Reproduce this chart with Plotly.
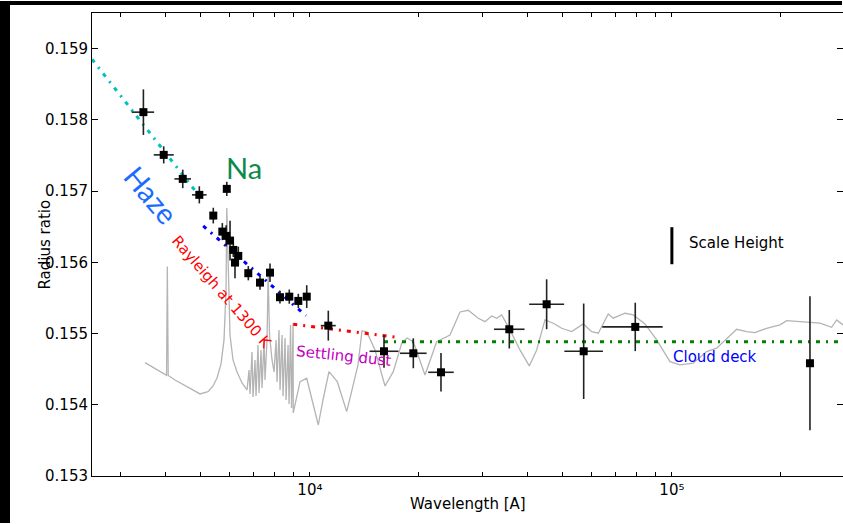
import math
import plotly.graph_objects as go

# ---------------- data ----------------
# observed transmission spectrum (wavelength in Angstrom, radius ratio)
obs_wl = [3467, 3945, 4453, 4948, 5408, 5728, 5870, 5893, 6016, 6142, 6209, 6340,
          6757, 7278, 7757, 8265, 8770, 9288, 9799, 11240, 16020, 19305, 23020,
          35550, 45080, 57060, 79220, 240700]
obs_wl_lo = [3219, 3702, 4223, 4722, 5408, 5728, 5870, 5893, 6016, 6142, 6209, 6340,
             6757, 7278, 7757, 8265, 8770, 9288, 9799, 10715, 14610, 17740, 21220,
             32250, 40340, 50460, 64220, 240700]
obs_wl_hi = [3712, 4205, 4693, 5184, 5408, 5728, 5870, 5893, 6016, 6142, 6209, 6340,
             6757, 7278, 7757, 8265, 8770, 9288, 9799, 11789, 17570, 21006, 24966,
             39170, 50390, 64500, 94300, 240700]
obs_r = [0.158108, 0.157508, 0.157171, 0.156947, 0.156656, 0.156431, 0.156371, 0.157031,
         0.156305, 0.156174, 0.155996, 0.156090, 0.155847, 0.155715, 0.155855, 0.155510,
         0.155518, 0.155458, 0.155518, 0.155111, 0.154751, 0.154723, 0.154456, 0.155060,
         0.155411, 0.154751, 0.155093, 0.154583]
obs_r_err = [0.00032, 0.00012, 0.00013, 0.00012, 0.00011, 0.00012, 0.00015, 0.00010,
             0.00028, 0.00010, 0.00022, 0.00013, 0.00010, 0.00010, 0.00013, 0.00009,
             0.00010, 0.00010, 0.00016, 0.00021, 0.00023, 0.00021, 0.00027, 0.00027,
             0.00035, 0.00067, 0.00034, 0.00094]

# grey model spectrum
model_wl = [3503, 4017, 4037, 4060, 4240, 4433, 4664, 4970, 5230, 5399, 5538, 5681,
            5790, 5864, 5893, 5958, 6015, 6131, 6289, 6493, 6703, 6788, 6831, 6918,
            6963, 7052, 7097, 7188, 7234, 7327, 7374, 7468, 7516, 7612, 7665, 7734,
            7858, 7959, 8061, 8112, 8216, 8269, 8375, 8428, 8536, 8591, 8701, 8757,
            8841, 8897, 8985, 8995, 9155, 9391, 9797, 10133, 10547, 10867, 11290,
            11903, 12636, 13070, 13577, 13927, 14354, 15128, 16121, 16994, 17928,
            18543, 19300, 19885, 20794, 22398, 24378, 25975, 27384, 29183, 30454,
            31779, 32806, 33867, 35702, 38047, 40366, 42313, 44607, 47025, 49605,
            52860, 56906, 60033, 62608, 66715, 68871, 74200, 78215, 84263, 90790,
            98785, 105273, 114560, 124780, 132960, 141680, 151000, 160900, 169600,
            182700, 198900, 207600, 240700, 256500, 276300, 285300, 297000]
model_r = [0.154591, 0.154414, 0.155940, 0.154412, 0.154348, 0.154292, 0.154232, 0.154152,
           0.154184, 0.154264, 0.154376, 0.154573, 0.154910, 0.155612, 0.156764, 0.155612,
           0.154980, 0.154629, 0.154461, 0.154306, 0.154208, 0.154489, 0.154152, 0.154742,
           0.154110, 0.154629, 0.154124, 0.154840, 0.154166, 0.154770, 0.154236, 0.154910,
           0.154348, 0.154910, 0.155823, 0.154980, 0.154629, 0.154461, 0.154910, 0.154320,
           0.155051, 0.154208, 0.154980, 0.154124, 0.154938, 0.154067, 0.154840, 0.154011,
           0.155121, 0.153955, 0.155149, 0.153885, 0.154067, 0.154324, 0.154372, 0.154067,
           0.153716, 0.154067, 0.154465, 0.154324, 0.153903, 0.154208, 0.154559, 0.155037,
           0.155027, 0.154770, 0.154264, 0.154465, 0.154864, 0.154938, 0.154886, 0.154699,
           0.154419, 0.154886, 0.154980, 0.155303, 0.155327, 0.155215, 0.155167, 0.155247,
           0.155215, 0.155261, 0.155051, 0.154770, 0.154545, 0.154770, 0.155191, 0.155145,
           0.155074, 0.155027, 0.155135, 0.155027, 0.155004, 0.155275, 0.155215, 0.155285,
           0.155261, 0.155135, 0.154910, 0.154605, 0.154559, 0.154583, 0.154746, 0.154794,
           0.154934, 0.155060, 0.155027, 0.155013, 0.155074, 0.155121, 0.155181, 0.155153,
           0.155145, 0.155088, 0.155191, 0.155121]

# fitted components
rayleigh_uv_wl = [2500, 4970]
rayleigh_uv_r = [0.15885, 0.156919]
haze_wl = [5072, 9754]
haze_r = [0.156511, 0.155251]
rayleigh1300_wl = [8995, 17500]
rayleigh1300_r = [0.155130, 0.154945]
cloud_wl = [16020, 297000]
cloud_r = [0.154886, 0.154886]

# scale height marker
scale_height_wl = 100000
scale_height_center = 0.156233
scale_height_size = 0.00052

# axis ticks (major decades labelled, minor ticks unlabelled)
x_tickvals = [3000, 4000, 5000, 6000, 7000, 8000, 9000, 10000,
              20000, 30000, 40000, 50000, 60000, 70000, 80000, 90000, 100000, 200000]
x_ticktext = ["", "", "", "", "", "", "", "10\u2074",
              "", "", "", "", "", "", "", "", "10\u2075", ""]
y_ticks = [0.153, 0.154, 0.155, 0.156, 0.157, 0.158, 0.159]

X_MIN, X_MAX = 2500, 297000
Y_MIN, Y_MAX = 0.153, 0.1595

# ---------------- layout constants ----------------
W, H = 843, 524
ML, MR, MT, MB = 92, 0, 13, 48
PW, PH = W - ML - MR, H - MT - MB


def px(xp):
    return (xp - ML) / PW


def py(yp):
    return (H - MB - yp) / PH


FONT = "DejaVu Sans"
DASH = "4px,6px,2px,6px"

fig = go.Figure()

fig.add_trace(go.Scatter(x=model_wl, y=model_r, mode="lines",
                         line=dict(color="#b4b4b4", width=1.3), hoverinfo="skip"))

for xs, ys, col in [(rayleigh_uv_wl, rayleigh_uv_r, "#00bfbf"),
                    (haze_wl, haze_r, "#0000ff"),
                    (rayleigh1300_wl, rayleigh1300_r, "#ff0000"),
                    (cloud_wl, cloud_r, "#008000")]:
    fig.add_trace(go.Scatter(x=xs, y=ys, mode="lines",
                             line=dict(color=col, width=3, dash=DASH)))

fig.add_trace(go.Scatter(
    x=obs_wl, y=obs_r, mode="markers",
    marker=dict(symbol="square", size=8, color="black"),
    error_y=dict(type="data", array=obs_r_err, color="#222222", thickness=1.6, width=0),
    error_x=dict(type="data", symmetric=False,
                 array=[h - w for h, w in zip(obs_wl_hi, obs_wl)],
                 arrayminus=[w - l for w, l in zip(obs_wl, obs_wl_lo)],
                 color="#222222", thickness=1.6, width=0)))

# scale height bar
fig.add_trace(go.Scatter(
    x=[scale_height_wl, scale_height_wl],
    y=[scale_height_center - scale_height_size / 2, scale_height_center + scale_height_size / 2],
    mode="lines", line=dict(color="black", width=3)))

annotations = [
    dict(text="Na", x=math.log10(6575), y=0.157326, xref="x", yref="y",
         font=dict(family="Lato", size=29, color="#0b8a4c"), showarrow=False),
    dict(text="Haze", x=math.log10(3640), y=0.156947, xref="x", yref="y", textangle=50,
         font=dict(family="Lato", size=29, color="#1a6cff"), showarrow=False),
    dict(text="Rayleigh at 1300 K", x=math.log10(5700), y=0.155580, xref="x", yref="y",
         textangle=49, font=dict(family=FONT, size=15, color="#ff0000"), showarrow=False),
    dict(text="Settling dust", x=math.log10(12420), y=0.154685, xref="x", yref="y",
         textangle=6, font=dict(family=FONT, size=15, color="#bf00bf"), showarrow=False),
    dict(text="Cloud deck", x=math.log10(131950), y=0.154664, xref="x", yref="y",
         font=dict(family=FONT, size=15, color="#0000ff"), showarrow=False),
    dict(text="Scale Height", x=math.log10(110100), y=0.156268, xref="x", yref="y",
         xanchor="left", font=dict(family=FONT, size=15, color="black"), showarrow=False),
    dict(text="Wavelength [A]", x=px(468), y=py(515), xref="paper", yref="paper",
         font=dict(family=FONT, size=15, color="black"), showarrow=False),
    dict(text="Radius ratio", x=px(33), y=0.5, xref="paper", yref="paper", textangle=-90,
         font=dict(family=FONT, size=15, color="black"), showarrow=False),
]

shapes = [
    dict(type="rect", xref="paper", yref="paper", x0=px(0), x1=px(10), y0=py(H - 1), y1=py(1),
         fillcolor="black", line=dict(width=0), layer="above"),
    dict(type="rect", xref="paper", yref="paper", x0=px(1), x1=px(W - 1), y0=py(5), y1=py(1),
         fillcolor="black", line=dict(width=0), layer="above"),
]

fig.update_layout(
    width=W, height=H, margin=dict(l=ML, r=MR, t=MT, b=MB, pad=0),
    paper_bgcolor="white", plot_bgcolor="white", showlegend=False,
    font=dict(family=FONT, size=15, color="black"),
    annotations=annotations, shapes=shapes,
    xaxis=dict(type="log", range=[math.log10(X_MIN), math.log10(X_MAX)],
               tickmode="array", tickvals=x_tickvals, ticktext=x_ticktext,
               ticks="inside", ticklen=4, tickwidth=1, tickcolor="black",
               showline=True, linecolor="black", linewidth=1, mirror="ticks",
               showgrid=False, zeroline=False, tickfont=dict(size=15)),
    yaxis=dict(range=[Y_MIN, Y_MAX], tickmode="array", tickvals=y_ticks,
               ticktext=[f"{v:.3f}" for v in y_ticks],
               ticks="inside", ticklen=6, tickwidth=1, tickcolor="black",
               showline=True, linecolor="black", linewidth=1, mirror="ticks",
               showgrid=False, zeroline=False, tickfont=dict(size=15)),
)

fig.write_html("out.html")
